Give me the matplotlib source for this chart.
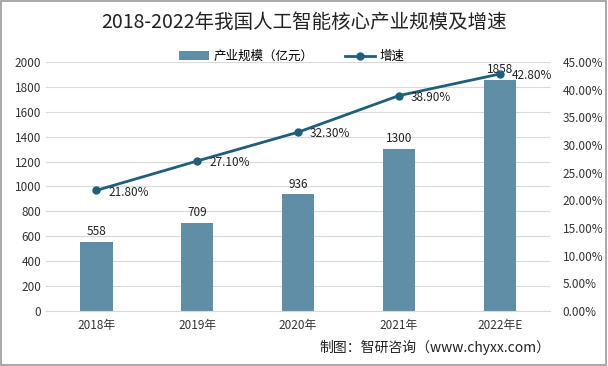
import matplotlib
matplotlib.use("Agg")
import matplotlib.pyplot as plt
from matplotlib.ticker import FuncFormatter, MultipleLocator

plt.rcParams['font.family'] = ['Noto Sans CJK SC', 'DejaVu Sans']

categories = ["2018年", "2019年", "2020年", "2021年", "2022年E"]
scale = [558, 709, 936, 1300, 1858]
growth = [21.8, 27.1, 32.3, 38.9, 42.8]

bar_color = "#5f8ea6"
line_color = "#1f5f7a"

fig = plt.figure(figsize=(6.08, 3.66), dpi=100)
fig.patch.set_facecolor("white")
ax = fig.add_axes([0.0757, 0.150, 0.829, 0.681])
x = list(range(len(categories)))
ax.bar(x, scale, width=0.32, color=bar_color, label="产业规模（亿元）", zorder=2)
for xi, v in zip(x, scale):
    ax.text(xi, v + 30, str(v), ha="center", va="bottom", fontsize=8.5, color="#222222")
ax.set_ylim(0, 2000)
ax.set_xlim(-0.5, 4.5)
ax.yaxis.set_major_locator(MultipleLocator(200))
ax.grid(axis="y", color="#d9d9d9", linewidth=0.8, zorder=0)
ax.set_axisbelow(True)
for s in ["top", "right", "left"]:
    ax.spines[s].set_visible(False)
ax.spines["bottom"].set_color("#d9d9d9")
ax.tick_params(axis="both", length=0, labelsize=8.5, colors="#333333")
ax.tick_params(axis="x", pad=6)
ax.set_xticks(x)
ax.set_xticklabels(categories)

ax2 = ax.twinx()
ax2.plot(x, [g / 100 for g in growth], color=line_color, linewidth=2, marker="o",
         markersize=5, label="增速", zorder=3)
for xi, g in zip(x, growth):
    ax2.text(xi + 0.12, g / 100 - 0.003, f"{g:.2f}%", ha="left", va="center",
             fontsize=8.5, color="#222222")
ax2.set_ylim(0, 0.45)
ax2.yaxis.set_major_locator(MultipleLocator(0.05))
ax2.yaxis.set_major_formatter(FuncFormatter(lambda v, p: f"{v*100:.2f}%"))
for s in ["top", "right", "left", "bottom"]:
    ax2.spines[s].set_visible(False)
ax2.tick_params(axis="y", length=0, labelsize=8.5, colors="#333333", pad=9)

h1, l1 = ax.get_legend_handles_labels()
h2, l2 = ax2.get_legend_handles_labels()
fig.legend(h1 + h2, l1 + l2, loc="center", bbox_to_anchor=(0.48, 0.845), ncol=2,
           frameon=False, fontsize=9, handlelength=2.4, columnspacing=2.5,
           handletextpad=0.4)

fig.text(0.5, 0.94, "2018-2022年我国人工智能核心产业规模及增速", ha="center", va="center",
         fontsize=14, color="#222222")
fig.text(0.905, 0.052, "制图：智研咨询（www.chyxx.com）", ha="right", va="center",
         fontsize=10, color="#222222")

border = plt.Rectangle((0.002, 0.003), 0.995, 0.994, transform=fig.transFigure,
                       fill=False, edgecolor="#999999", linewidth=1.2)
fig.patches.append(border)

fig.savefig("out.png", dpi=100)
